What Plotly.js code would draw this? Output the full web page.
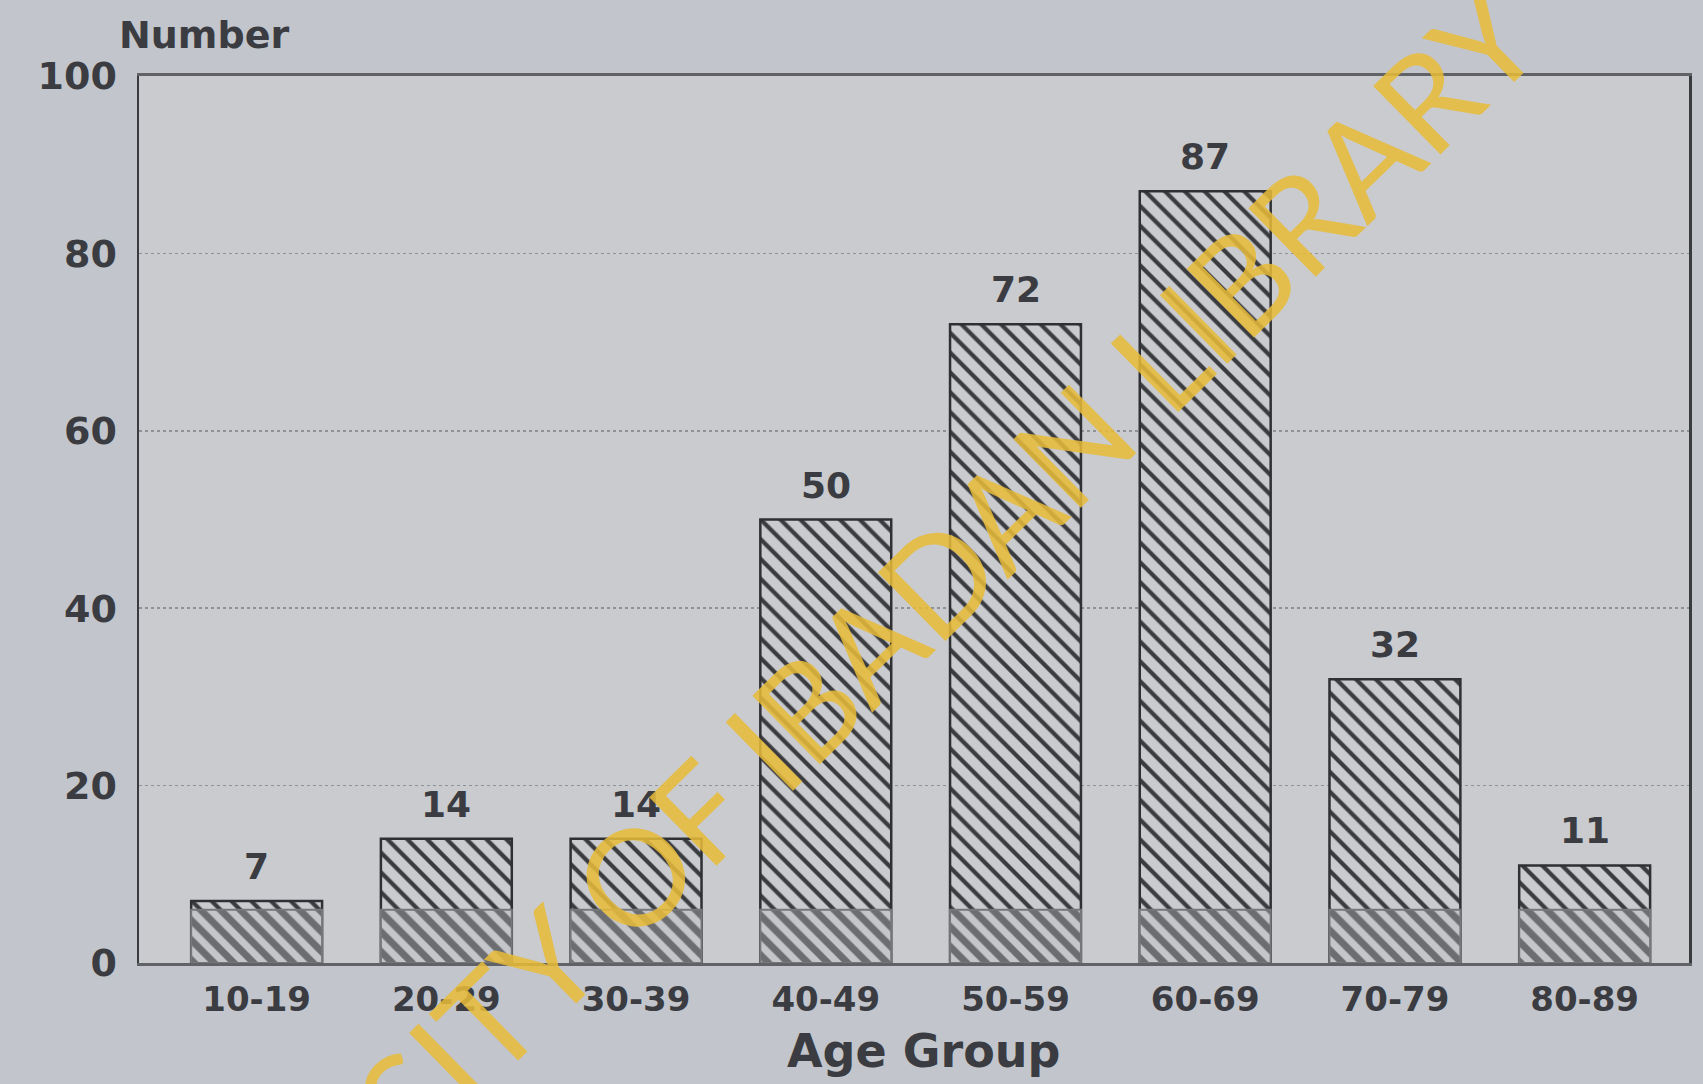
<!DOCTYPE html>
<html>
<head>
<meta charset="utf-8">
<script src="https://cdn.plot.ly/plotly-3.0.1.min.js"></script>
<style>
  html, body { margin: 0; padding: 0; background: #c2c6cc; }
  #chart { width: 1703px; height: 1084px; }
</style>
</head>
<body>
<div id="chart"></div>
<script>
// Patients by age group
const ageGroups = ['10-19', '20-29', '30-39', '40-49', '50-59', '60-69', '70-79', '80-89'];
const counts = [7, 14, 14, 50, 72, 87, 32, 11];
const yTickValues = [0, 20, 40, 60, 80, 100];

// Depth of the hatched plinth drawn under every bar (axis units)
const plinthDepth = 6;

const inkColor = '#3b3c41';
const axisFont = 'DejaVu Sans, Verdana, sans-serif';

const bars = {
  type: 'bar',
  x: ageGroups,
  y: counts,
  hoverinfo: 'x+y',
  marker: {
    color: '#c9cbcf',
    line: { color: '#2f3034', width: 2.5 },
    pattern: { shape: '\\', fgcolor: '#3a3b3f', bgcolor: '#c9cbcf', size: 14, solidity: 0.3 }
  }
};

const plinth = {
  type: 'bar',
  x: ageGroups,
  y: ageGroups.map(() => plinthDepth),
  hoverinfo: 'skip',
  marker: {
    color: '#c4c6ca',
    line: { color: '#75777b', width: 2 },
    pattern: { shape: '\\', fgcolor: '#6b6d71', bgcolor: '#c4c6ca', size: 14, solidity: 0.5 }
  }
};

// Count printed above every bar
const valueLabels = ageGroups.map((g, i) => ({
  x: g,
  y: counts[i],
  xref: 'x',
  yref: 'y',
  text: String(counts[i]),
  showarrow: false,
  yanchor: 'bottom',
  yshift: 12,
  font: { family: axisFont, size: 36, color: inkColor, weight: 'bold' }
}));

const layout = {
  width: 1703,
  height: 1084,
  margin: { l: 139, r: 14, t: 76, b: 121 },
  paper_bgcolor: '#c2c6cc',
  plot_bgcolor: '#c9cbcf',
  showlegend: false,
  barmode: 'overlay',
  bargap: 0.31,
  xaxis: {
    type: 'category',
    range: [-0.62, 7.55],
    showline: true,
    mirror: true,
    linecolor: '#606266',
    linewidth: 3,
    showgrid: false,
    ticks: '',
    ticklabelstandoff: 4,
    tickfont: { family: axisFont, size: 34, color: inkColor, weight: 'bold' }
  },
  yaxis: {
    range: [0, 100],
    tickvals: yTickValues,
    ticktext: yTickValues.map(String),
    showline: true,
    mirror: true,
    linecolor: '#3a3b3f',
    linewidth: 2.5,
    showgrid: true,
    gridcolor: '#8e9196',
    gridwidth: 1.5,
    griddash: 'dot',
    zeroline: false,
    ticks: '',
    ticklabelstandoff: 12,
    tickfont: { family: axisFont, size: 38, color: inkColor, weight: 'bold' }
  },
  annotations: valueLabels.concat([
    {
      text: 'Number',
      xref: 'paper', yref: 'paper',
      x: 0.042, y: 1.046,
      xanchor: 'center', yanchor: 'middle',
      showarrow: false,
      font: { family: axisFont, size: 38, color: inkColor, weight: 'bold' }
    },
    {
      text: 'Age Group',
      xref: 'paper', yref: 'paper',
      x: 0.506, y: -0.099,
      xanchor: 'center', yanchor: 'middle',
      showarrow: false,
      font: { family: axisFont, size: 46, color: inkColor, weight: 'bold' }
    },
    {
      text: 'UNIVERSITY OF IBADAN LIBRARY',
      xref: 'paper', yref: 'paper',
      x: 0.408, y: 0.252,
      xanchor: 'center', yanchor: 'middle',
      textangle: -44.5,
      showarrow: false,
      font: { family: 'Lato, Open Sans, sans-serif', size: 134, color: 'rgba(232,187,56,0.86)' }
    }
  ])
};

Plotly.newPlot('chart', [bars, plinth], layout, { displayModeBar: false, staticPlot: true });
</script>
</body>
</html>
